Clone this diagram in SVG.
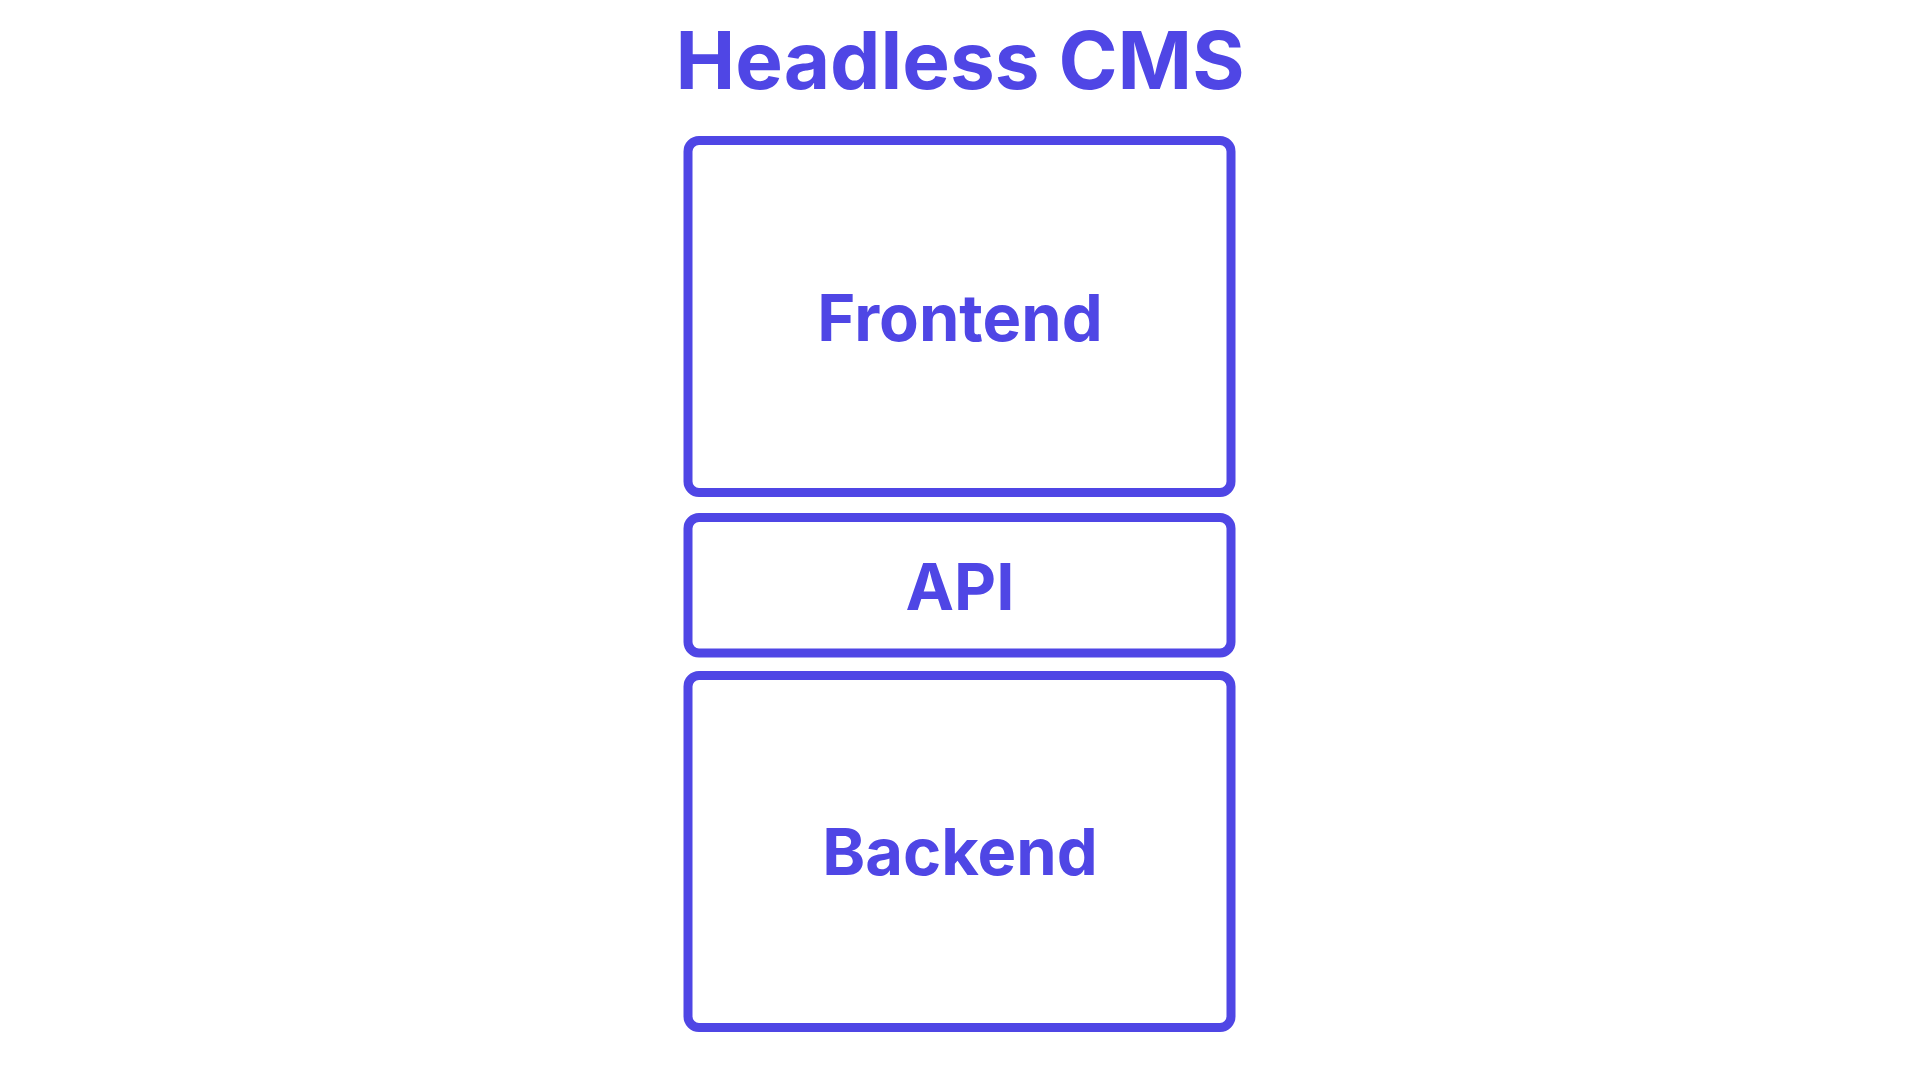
<svg xmlns="http://www.w3.org/2000/svg" width="1920" height="1080" viewBox="0 0 1920 1080">
<style>
.box{fill:#ffffff;stroke:#4F46E5;stroke-width:9}
.lbl{font-family:Inter,"Liberation Sans",sans-serif;font-weight:700;fill:#4F46E5;text-anchor:middle;dominant-baseline:central}
</style>
<rect width="1920" height="1080" fill="#ffffff"/>
<text class="lbl" x="960" y="59" font-size="80">Headless CMS</text>
<g id="frontend">
<rect class="box" x="688" y="140.5" width="543" height="352" rx="11"/>
<text class="lbl" x="960" y="317" font-size="65">Frontend</text>
</g>
<g id="api">
<rect class="box" x="688" y="517.5" width="543" height="135.5" rx="11"/>
<text class="lbl" x="960" y="586" font-size="65">API</text>
</g>
<g id="backend">
<rect class="box" x="688" y="675.5" width="543" height="352" rx="11"/>
<text class="lbl" x="960" y="851" font-size="65">Backend</text>
</g>
<g id="connectors"></g>
</svg>
